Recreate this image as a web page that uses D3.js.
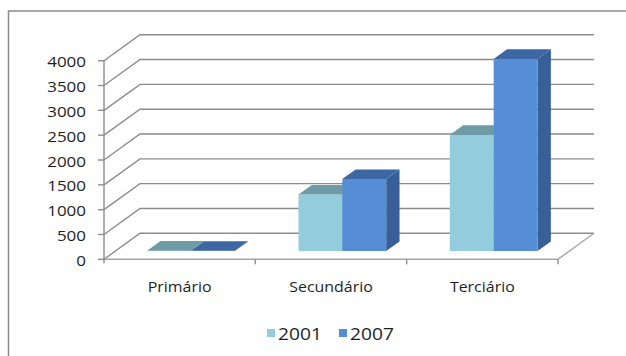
<!DOCTYPE html>
<html>
<head>
<meta charset="utf-8">
<script src="https://cdn.jsdelivr.net/npm/d3@7"></script>
<style>
  html, body { margin: 0; padding: 0; background: #fff; }
  svg { display: block; }
  text { font-family: "Open Sans", "Liberation Sans", sans-serif; fill: #1e1e1e; }
</style>
</head>
<body>
<svg id="chart" width="626" height="356"></svg>
<script>
// Data
const categories = ["Primário", "Secundário", "Terciário"];
const seriesNames = ["2001", "2007"];
const values2001 = [8, 1140, 2340];
const values2007 = [6, 1450, 3870];
const yTicks = [0, 500, 1000, 1500, 2000, 2500, 3000, 3500, 4000];

const seriesValues = [values2001, values2007];
const palette = [
  { front: "#93cddd", top: "#6f9ba7", side: "#5f8c98" },
  { front: "#558ed5", top: "#3c67a3", side: "#375f98" }
];

const svg = d3.select("#chart");

// Outer chart frame
svg.append("rect")
  .attr("x", 8.5).attr("y", 11)
  .attr("width", 640).attr("height", 360)
  .attr("fill", "none").attr("stroke", "#8a8a8a").attr("stroke-width", 1.5);

// Scales for the front plane of the 3-D box
const plotLeft = 104, plotRight = 558;
const depthX = 36, depthY = 26;
const y = d3.scaleLinear().domain([0, 4000]).range([259.3, 60.7]);
const x = d3.scaleBand().domain(categories).range([plotLeft, plotRight]).paddingInner(0).paddingOuter(0);
const xs = d3.scaleBand().domain(seriesNames)
  .range([0, x.bandwidth()]).paddingInner(0).paddingOuter(0.725);

// Projection of a point (px at front, value, depth fraction) to the screen
const P = (px, v, z) => [px + z * depthX, y(v) - z * depthY];
const line = d3.line();

// Text helper: slightly widened glyphs
function label(g, tx, ty, str, size, anchor, sx) {
  return g.append("text")
    .attr("transform", `translate(${tx},${ty}) scale(${sx},1)`)
    .attr("text-anchor", anchor).attr("font-size", size)
    .text(str);
}

const gridColor = "#8c8c8c";
const grid = svg.append("g").attr("fill", "none").attr("stroke", gridColor).attr("stroke-width", 1.4);

// Back wall gridlines with side-wall diagonals
yTicks.forEach(t => {
  grid.append("path").attr("d", line([P(plotLeft, t, 0), P(plotLeft, t, 1), P(plotRight, t, 1)]));
});
// Floor: right diagonal and front edge
grid.append("path").attr("d", line([P(plotLeft, 0, 0), P(plotRight, 0, 0), P(plotRight, 0, 1)]))
  .attr("stroke", "#a6a6a6");

// Value axis line and ticks
grid.append("path").attr("d", line([[plotLeft, y(4000)], [plotLeft, y(0) + 4]]));
yTicks.forEach(t => {
  grid.append("path").attr("d", line([[plotLeft - 6, y(t)], [plotLeft, y(t)]]));
});
// Category boundary ticks
categories.forEach(c => {
  const bx = x(c) + x.bandwidth();
  grid.append("path").attr("d", line([[bx, y(0)], [bx, y(0) + 5]]));
});

// Value labels
const yLabels = svg.append("g");
yTicks.forEach(t => label(yLabels, 86, y(t) + 6.5, t, 14.5, "end", 1.17));

// Category labels
const xLabels = svg.append("g");
categories.forEach(c => label(xLabels, x(c) + x.bandwidth() / 2, 292, c, 14.5, "middle", 1.1));

// 3-D bars
const z0 = 0.315, z1 = 0.685;
const bars = svg.append("g");
categories.forEach((c, ci) => {
  seriesNames.forEach((s, si) => {
    const v = seriesValues[si][ci];
    const x0 = x(c) + xs(s), x1 = x0 + xs.bandwidth();
    const col = palette[si];
    // side face
    bars.append("path")
      .attr("d", line([P(x1, 0, z0), P(x1, 0, z1), P(x1, v, z1), P(x1, v, z0)]) + "Z")
      .attr("fill", col.side);
    // front face
    bars.append("path")
      .attr("d", line([P(x0, 0, z0), P(x1, 0, z0), P(x1, v, z0), P(x0, v, z0)]) + "Z")
      .attr("fill", col.front);
    // top face
    bars.append("path")
      .attr("d", line([P(x0, v, z0), P(x1, v, z0), P(x1, v, z1), P(x0, v, z1)]) + "Z")
      .attr("fill", col.top);
  });
});

// Legend
const legend = svg.append("g");
const legendItems = [{ name: seriesNames[0], x: 267 }, { name: seriesNames[1], x: 339 }];
legendItems.forEach((d, i) => {
  legend.append("rect").attr("x", d.x).attr("y", 329).attr("width", 8).attr("height", 8)
    .attr("fill", palette[i].front);
  label(legend, d.x + 11, 339.5, d.name, 16, "start", 1.2);
});
</script>
</body>
</html>
